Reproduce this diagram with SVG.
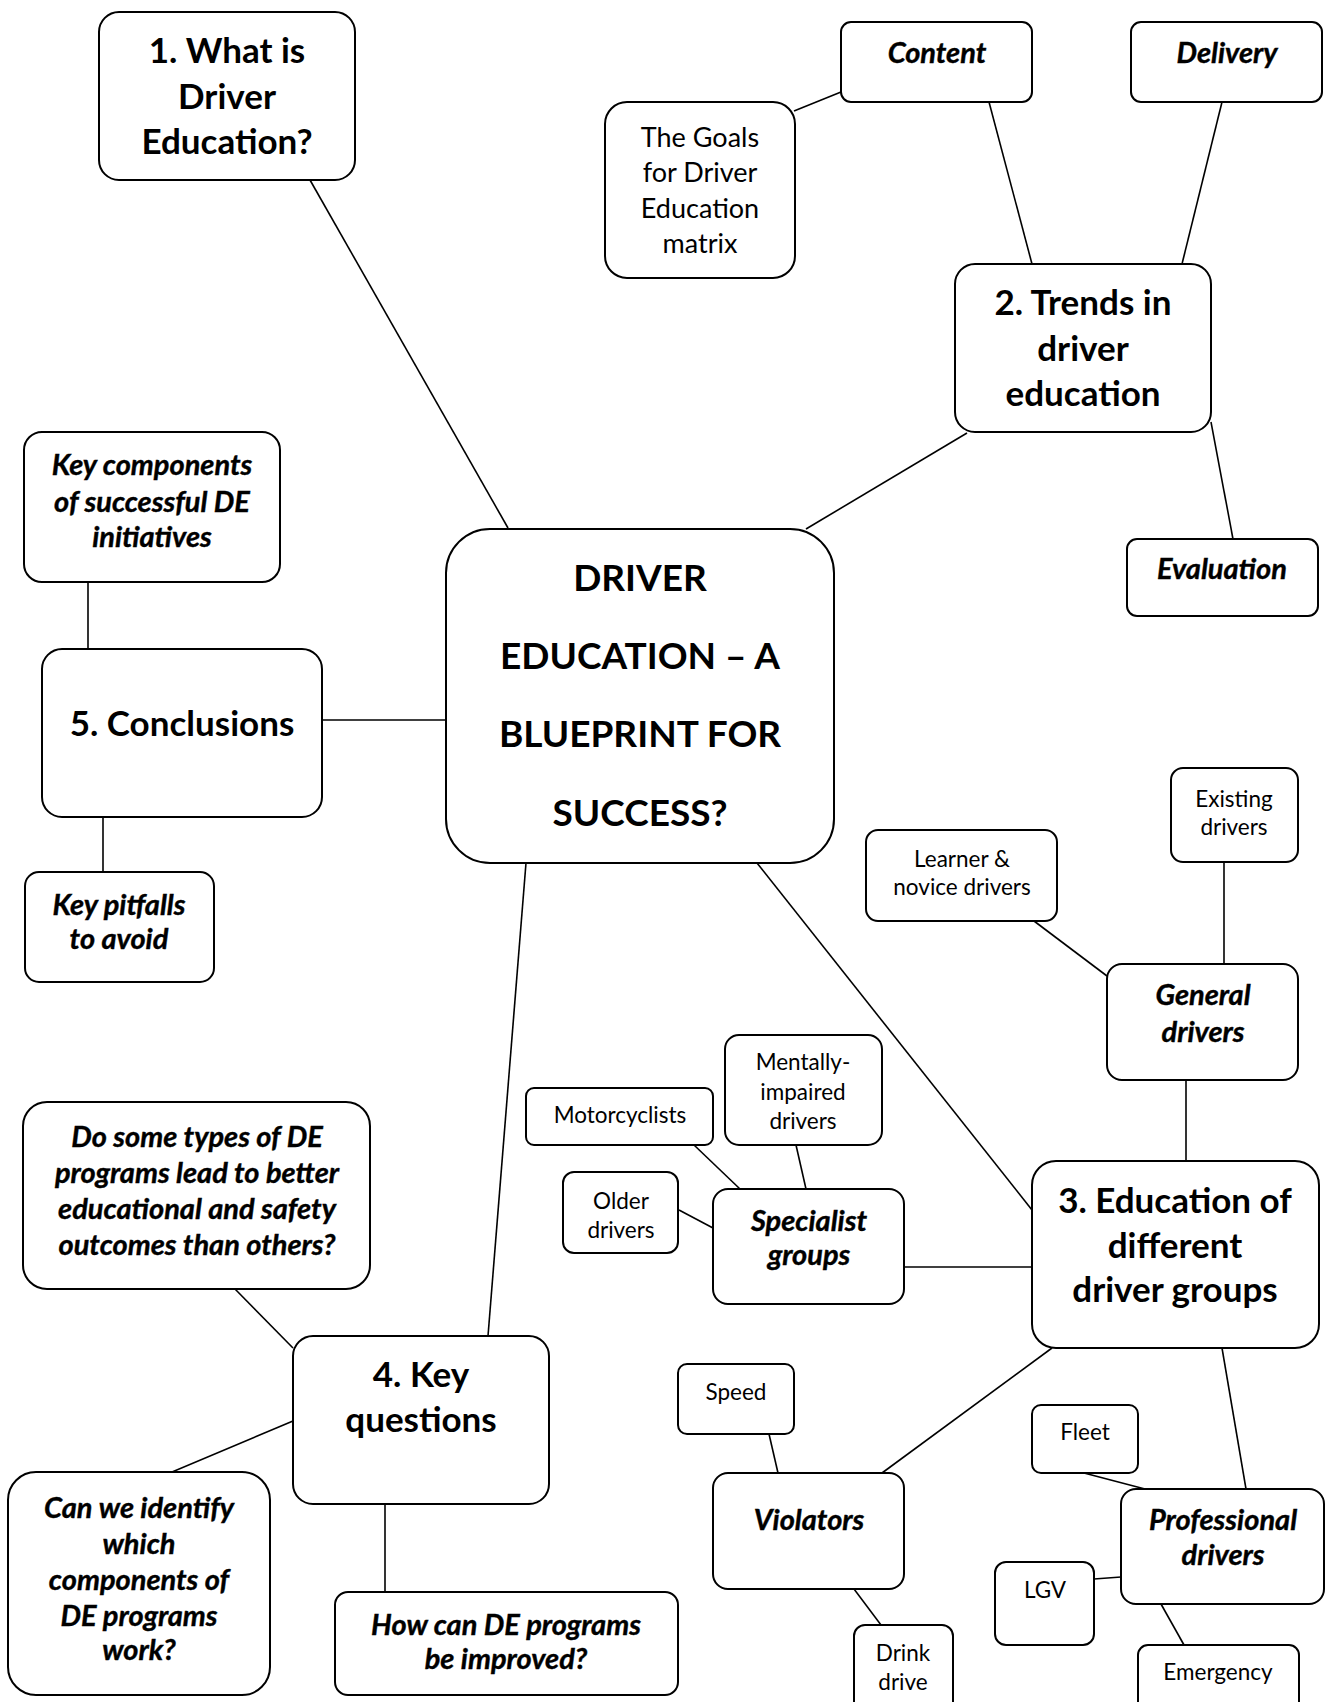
<svg xmlns="http://www.w3.org/2000/svg" width="1328" height="1702" viewBox="0 0 1328 1702">
  <style>
    .bg { fill: #ffffff; }
    .box { fill: #ffffff; stroke: #000000; stroke-width: 2; }
    .ln { stroke: #000000; stroke-width: 1.6; fill: none; }
    text { font-family: "Lato", "Liberation Sans", sans-serif; fill: #000000; text-anchor: middle; }
    .hd { font-size: 35px; font-weight: 700; }
    .ct { font-size: 37px; font-weight: 700; }
    .bi { font-size: 29px; font-weight: 700; font-style: italic; stroke: #000000; stroke-width: 0.4; }
    .md { font-size: 27px; font-weight: 400; }
    .sm { font-size: 22.5px; font-weight: 400; }
  </style>

  <rect class="bg" x="0" y="0" width="1328" height="1702"/>

  <!-- connectors -->
  <g id="connectors">
    <line class="ln" x1="310" y1="180" x2="508" y2="528"/>
    <line class="ln" x1="794" y1="111" x2="841" y2="92"/>
    <line class="ln" x1="989" y1="102" x2="1032" y2="264"/>
    <line class="ln" x1="1222" y1="102" x2="1182" y2="264"/>
    <line class="ln" x1="1211" y1="422" x2="1233" y2="539"/>
    <line class="ln" x1="967" y1="433" x2="806" y2="529"/>
    <line class="ln" x1="88" y1="582" x2="88" y2="649"/>
    <line class="ln" x1="322" y1="720" x2="446" y2="720"/>
    <line class="ln" x1="103" y1="817" x2="103" y2="872"/>
    <line class="ln" x1="757" y1="863" x2="1032" y2="1210"/>
    <line class="ln" x1="526" y1="863" x2="488" y2="1336"/>
    <line class="ln" x1="1224" y1="862" x2="1224" y2="964"/>
    <line class="ln" x1="1034" y1="921" x2="1107" y2="976"/>
    <line class="ln" x1="1186" y1="1080" x2="1186" y2="1161"/>
    <line class="ln" x1="694" y1="1145" x2="740" y2="1189"/>
    <line class="ln" x1="796" y1="1145" x2="806" y2="1189"/>
    <line class="ln" x1="679" y1="1210" x2="713" y2="1228"/>
    <line class="ln" x1="904" y1="1267" x2="1032" y2="1267"/>
    <line class="ln" x1="1052" y1="1348" x2="882" y2="1473"/>
    <line class="ln" x1="1222" y1="1348" x2="1246" y2="1489"/>
    <line class="ln" x1="769" y1="1434" x2="778" y2="1473"/>
    <line class="ln" x1="854" y1="1589" x2="881" y2="1625"/>
    <line class="ln" x1="1084" y1="1473" x2="1145" y2="1489"/>
    <line class="ln" x1="1094" y1="1579" x2="1121" y2="1577"/>
    <line class="ln" x1="1161" y1="1604" x2="1184" y2="1645"/>
    <line class="ln" x1="235" y1="1289" x2="293" y2="1348"/>
    <line class="ln" x1="293" y1="1421" x2="172" y2="1472"/>
    <line class="ln" x1="385" y1="1504" x2="385" y2="1592"/>
  </g>

  <!-- section 1 -->
  <g id="n-what">
    <rect class="box" x="99" y="12" width="256" height="168" rx="20"/>
    <text class="hd" x="227" y="63">1. What is</text>
    <text class="hd" x="227" y="109">Driver</text>
    <text class="hd" x="227" y="154">Education?</text>
  </g>

  <!-- section 2 and its branches -->
  <g id="n-goals">
    <rect class="box" x="605" y="102" width="190" height="176" rx="22"/>
    <text class="md" x="700" y="147">The Goals</text>
    <text class="md" x="700" y="182">for Driver</text>
    <text class="md" x="700" y="218">Education</text>
    <text class="md" x="700" y="253">matrix</text>
  </g>
  <g id="n-content">
    <rect class="box" x="841" y="22" width="191" height="80" rx="10"/>
    <text class="bi" x="937" y="63">Content</text>
  </g>
  <g id="n-delivery">
    <rect class="box" x="1131" y="22" width="191" height="80" rx="10"/>
    <text class="bi" x="1227" y="63">Delivery</text>
  </g>
  <g id="n-trends">
    <rect class="box" x="955" y="264" width="256" height="168" rx="20"/>
    <text class="hd" x="1083" y="315">2. Trends in</text>
    <text class="hd" x="1083" y="361">driver</text>
    <text class="hd" x="1083" y="406">education</text>
  </g>
  <g id="n-eval">
    <rect class="box" x="1127" y="539" width="191" height="77" rx="10"/>
    <text class="bi" x="1222" y="579">Evaluation</text>
  </g>

  <!-- central topic -->
  <g id="n-center">
    <rect class="box" x="446" y="529" width="388" height="334" rx="44"/>
    <text class="ct" x="640" y="591">DRIVER</text>
    <text class="ct" x="640" y="669">EDUCATION – A</text>
    <text class="ct" x="640" y="747">BLUEPRINT FOR</text>
    <text class="ct" x="640" y="826">SUCCESS?</text>
  </g>

  <!-- section 5 -->
  <g id="n-keycomp">
    <rect class="box" x="24" y="432" width="256" height="150" rx="18"/>
    <text class="bi" x="152" y="475">Key components</text>
    <text class="bi" x="152" y="512">of successful DE</text>
    <text class="bi" x="152" y="547">initiatives</text>
  </g>
  <g id="n-concl">
    <rect class="box" x="42" y="649" width="280" height="168" rx="20"/>
    <text class="hd" x="182" y="736">5. Conclusions</text>
  </g>
  <g id="n-pitfalls">
    <rect class="box" x="25" y="872" width="189" height="110" rx="14"/>
    <text class="bi" x="119" y="915">Key pitfalls</text>
    <text class="bi" x="119" y="949">to avoid</text>
  </g>

  <!-- section 3 and its branches -->
  <g id="n-existing">
    <rect class="box" x="1171" y="768" width="127" height="94" rx="12"/>
    <text class="sm" x="1234" y="807">Existing</text>
    <text class="sm" x="1234" y="835">drivers</text>
  </g>
  <g id="n-learner">
    <rect class="box" x="866" y="830" width="191" height="91" rx="12"/>
    <text class="sm" x="962" y="867">Learner &amp;</text>
    <text class="sm" x="962" y="895">novice drivers</text>
  </g>
  <g id="n-general">
    <rect class="box" x="1107" y="964" width="191" height="116" rx="15"/>
    <text class="bi" x="1203" y="1005">General</text>
    <text class="bi" x="1203" y="1042">drivers</text>
  </g>
  <g id="n-mental">
    <rect class="box" x="725" y="1035" width="157" height="110" rx="14"/>
    <text class="sm" x="803" y="1070">Mentally-</text>
    <text class="sm" x="803" y="1100">impaired</text>
    <text class="sm" x="803" y="1129">drivers</text>
  </g>
  <g id="n-moto">
    <rect class="box" x="526" y="1088" width="187" height="57" rx="8"/>
    <text class="sm" x="620" y="1123">Motorcyclists</text>
  </g>
  <g id="n-older">
    <rect class="box" x="563" y="1172" width="115" height="81" rx="11"/>
    <text class="sm" x="621" y="1209">Older</text>
    <text class="sm" x="621" y="1238">drivers</text>
  </g>
  <g id="n-special">
    <rect class="box" x="713" y="1189" width="191" height="115" rx="15"/>
    <text class="bi" x="809" y="1231">Specialist</text>
    <text class="bi" x="809" y="1265">groups</text>
  </g>
  <g id="n-edu">
    <rect class="box" x="1032" y="1161" width="287" height="187" rx="24"/>
    <text class="hd" x="1175" y="1213">3. Education of</text>
    <text class="hd" x="1175" y="1258">different</text>
    <text class="hd" x="1175" y="1302">driver groups</text>
  </g>
  <g id="n-speed">
    <rect class="box" x="678" y="1364" width="116" height="70" rx="9"/>
    <text class="sm" x="736" y="1400">Speed</text>
  </g>
  <g id="n-fleet">
    <rect class="box" x="1032" y="1405" width="106" height="68" rx="9"/>
    <text class="sm" x="1085" y="1440">Fleet</text>
  </g>
  <g id="n-violators">
    <rect class="box" x="713" y="1473" width="191" height="116" rx="15"/>
    <text class="bi" x="809" y="1530">Violators</text>
  </g>
  <g id="n-prof">
    <rect class="box" x="1121" y="1489" width="203" height="115" rx="15"/>
    <text class="bi" x="1223" y="1530">Professional</text>
    <text class="bi" x="1223" y="1565">drivers</text>
  </g>
  <g id="n-lgv">
    <rect class="box" x="995" y="1562" width="99" height="83" rx="11"/>
    <text class="sm" x="1045" y="1598">LGV</text>
  </g>
  <g id="n-drink">
    <rect class="box" x="854" y="1625" width="99" height="88" rx="11"/>
    <text class="sm" x="903" y="1661">Drink</text>
    <text class="sm" x="903" y="1690">drive</text>
  </g>
  <g id="n-emerg">
    <rect class="box" x="1138" y="1645" width="161" height="68" rx="10"/>
    <text class="sm" x="1218" y="1680">Emergency</text>
  </g>

  <!-- section 4 -->
  <g id="n-doq">
    <rect class="box" x="23" y="1102" width="347" height="187" rx="24"/>
    <text class="bi" x="197" y="1147">Do some types of DE</text>
    <text class="bi" x="197" y="1183">programs lead to better</text>
    <text class="bi" x="197" y="1219">educational and safety</text>
    <text class="bi" x="197" y="1255">outcomes than others?</text>
  </g>
  <g id="n-keyq">
    <rect class="box" x="293" y="1336" width="256" height="168" rx="20"/>
    <text class="hd" x="421" y="1387">4. Key</text>
    <text class="hd" x="421" y="1432">questions</text>
  </g>
  <g id="n-canwe">
    <rect class="box" x="8" y="1472" width="262" height="223" rx="28"/>
    <text class="bi" x="139" y="1518">Can we identify</text>
    <text class="bi" x="139" y="1554">which</text>
    <text class="bi" x="139" y="1590">components of</text>
    <text class="bi" x="139" y="1626">DE programs</text>
    <text class="bi" x="139" y="1660">work?</text>
  </g>
  <g id="n-howcan">
    <rect class="box" x="335" y="1592" width="343" height="103" rx="13"/>
    <text class="bi" x="506" y="1635">How can DE programs</text>
    <text class="bi" x="506" y="1669">be improved?</text>
  </g>
</svg>
